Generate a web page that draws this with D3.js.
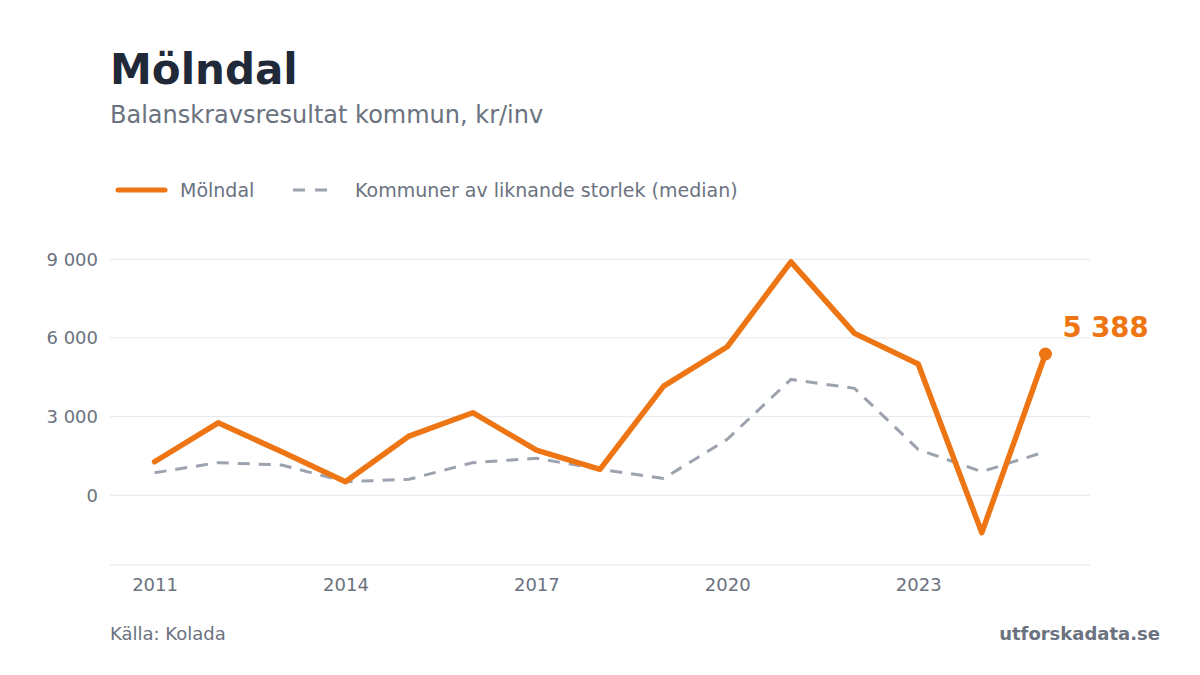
<!DOCTYPE html>
<html>
<head>
    <meta charset="utf-8">
    <title>Mölndal</title>
    <script src="https://d3js.org/d3.v7.min.js"></script>
    <style>
        body { margin: 0; background: #fff; }
        svg { font-family: "DejaVu Sans", sans-serif; }
        .grid line { stroke: #e5e7eb; stroke-width: 1; }
        .axis text { fill: #6b7280; font-size: 18px; font-family: "DejaVu Sans", sans-serif; }
    </style>
</head>
<body>
    <svg width="1200" height="675"></svg>
    <script>
        // data
        const years = [2011, 2012, 2013, 2014, 2015, 2016, 2017, 2018, 2019, 2020, 2021, 2022, 2023, 2024, 2025];
        const molndal = [1280, 2765, 1660, 520, 2260, 3150, 1725, 990, 4165, 5665, 8905, 6175, 5005, -1425, 5388];
        const median = [860, 1245, 1155, 520, 610, 1245, 1410, 995, 645, 2135, 4420, 4080, 1750, 900, 1665];
        const yTicks = [0, 3000, 6000, 9000];
        const xTicks = [2011, 2014, 2017, 2020, 2023];

        const orange = "#ee7513";
        const grey = "#9ca3af";

        const W = 1200, H = 675;
        const margin = { top: 230, right: 110, bottom: 110, left: 110 };

        const svg = d3.select("svg");

        const x = d3.scaleLinear()
            .domain([2010.3, 2025.7])
            .range([margin.left, W - margin.right]);
        const y = d3.scaleLinear()
            .domain([-2658, 10118])
            .range([H - margin.bottom, margin.top]);

        const fmt = d3.formatLocale({ decimal: ",", thousands: "\u00a0", grouping: [3], currency: ["", " kr"] }).format(",d");

        // title
        svg.append("text").attr("x", 110).attr("y", 84)
            .attr("font-size", 42).attr("font-weight", "bold").attr("fill", "#1f2937")
            .text("Mölndal");
        svg.append("text").attr("x", 110).attr("y", 123)
            .attr("font-size", 24).attr("fill", "#6b7280")
            .text("Balanskravsresultat kommun, kr/inv");

        // legend
        const leg = svg.append("g").attr("transform", "translate(118,190)");
        leg.append("line").attr("x1", 0).attr("x2", 47).attr("y1", 0).attr("y2", 0)
            .attr("stroke", orange).attr("stroke-width", 5).attr("stroke-linecap", "round");
        leg.append("text").attr("x", 62).attr("y", 7).attr("font-size", 19).attr("fill", "#6b7280").text("Mölndal");
        leg.append("line").attr("x1", 175).attr("x2", 217).attr("y1", 0).attr("y2", 0)
            .attr("stroke", grey).attr("stroke-width", 3).attr("stroke-dasharray", "12,10");
        leg.append("text").attr("x", 237).attr("y", 7).attr("font-size", 19).attr("fill", "#6b7280")
            .text("Kommuner av liknande storlek (median)");

        // grid
        const grid = svg.append("g").attr("class", "grid");
        grid.selectAll("line").data(yTicks).join("line")
            .attr("x1", margin.left).attr("x2", W - margin.right)
            .attr("y1", d => y(d)).attr("y2", d => y(d));
        grid.append("line")
            .attr("x1", margin.left).attr("x2", W - margin.right)
            .attr("y1", H - margin.bottom).attr("y2", H - margin.bottom);

        // axes
        const yAxis = svg.append("g").attr("class", "axis")
            .attr("transform", `translate(${margin.left},0)`)
            .call(d3.axisLeft(y).tickValues(yTicks).tickFormat(fmt).tickSize(0).tickPadding(12));
        yAxis.select(".domain").remove();

        const xAxis = svg.append("g").attr("class", "axis")
            .attr("transform", `translate(0,${H - margin.bottom})`)
            .call(d3.axisBottom(x).tickValues(xTicks).tickFormat(d3.format("d")).tickSize(0).tickPadding(13));
        xAxis.select(".domain").remove();

        // lines
        const line = d3.line().x((d, i) => x(years[i])).y(d => y(d));

        svg.append("path").datum(median)
            .attr("fill", "none").attr("stroke", grey).attr("stroke-width", 3)
            .attr("stroke-dasharray", "12,9")
            .attr("d", line);

        svg.append("path").datum(molndal)
            .attr("fill", "none").attr("stroke", orange).attr("stroke-width", 5.5)
            .attr("stroke-linejoin", "round").attr("stroke-linecap", "round")
            .attr("d", line);

        const lastI = years.length - 1;
        svg.append("circle")
            .attr("cx", x(years[lastI])).attr("cy", y(molndal[lastI])).attr("r", 6.5)
            .attr("fill", orange);
        svg.append("text")
            .attr("x", x(years[lastI]) + 17).attr("y", y(molndal[lastI]) - 17)
            .attr("font-size", 27.5).attr("font-weight", "bold").attr("fill", orange)
            .text(fmt(molndal[lastI]));

        // footer
        svg.append("text").attr("x", 110).attr("y", 640)
            .attr("font-size", 18).attr("fill", "#6b7280").text("Källa: Kolada");
        svg.append("text").attr("x", 1160).attr("y", 640).attr("text-anchor", "end")
            .attr("font-size", 18).attr("font-weight", "bold").attr("fill", "#6b7280").text("utforskadata.se");
    </script>
</body>
</html>
